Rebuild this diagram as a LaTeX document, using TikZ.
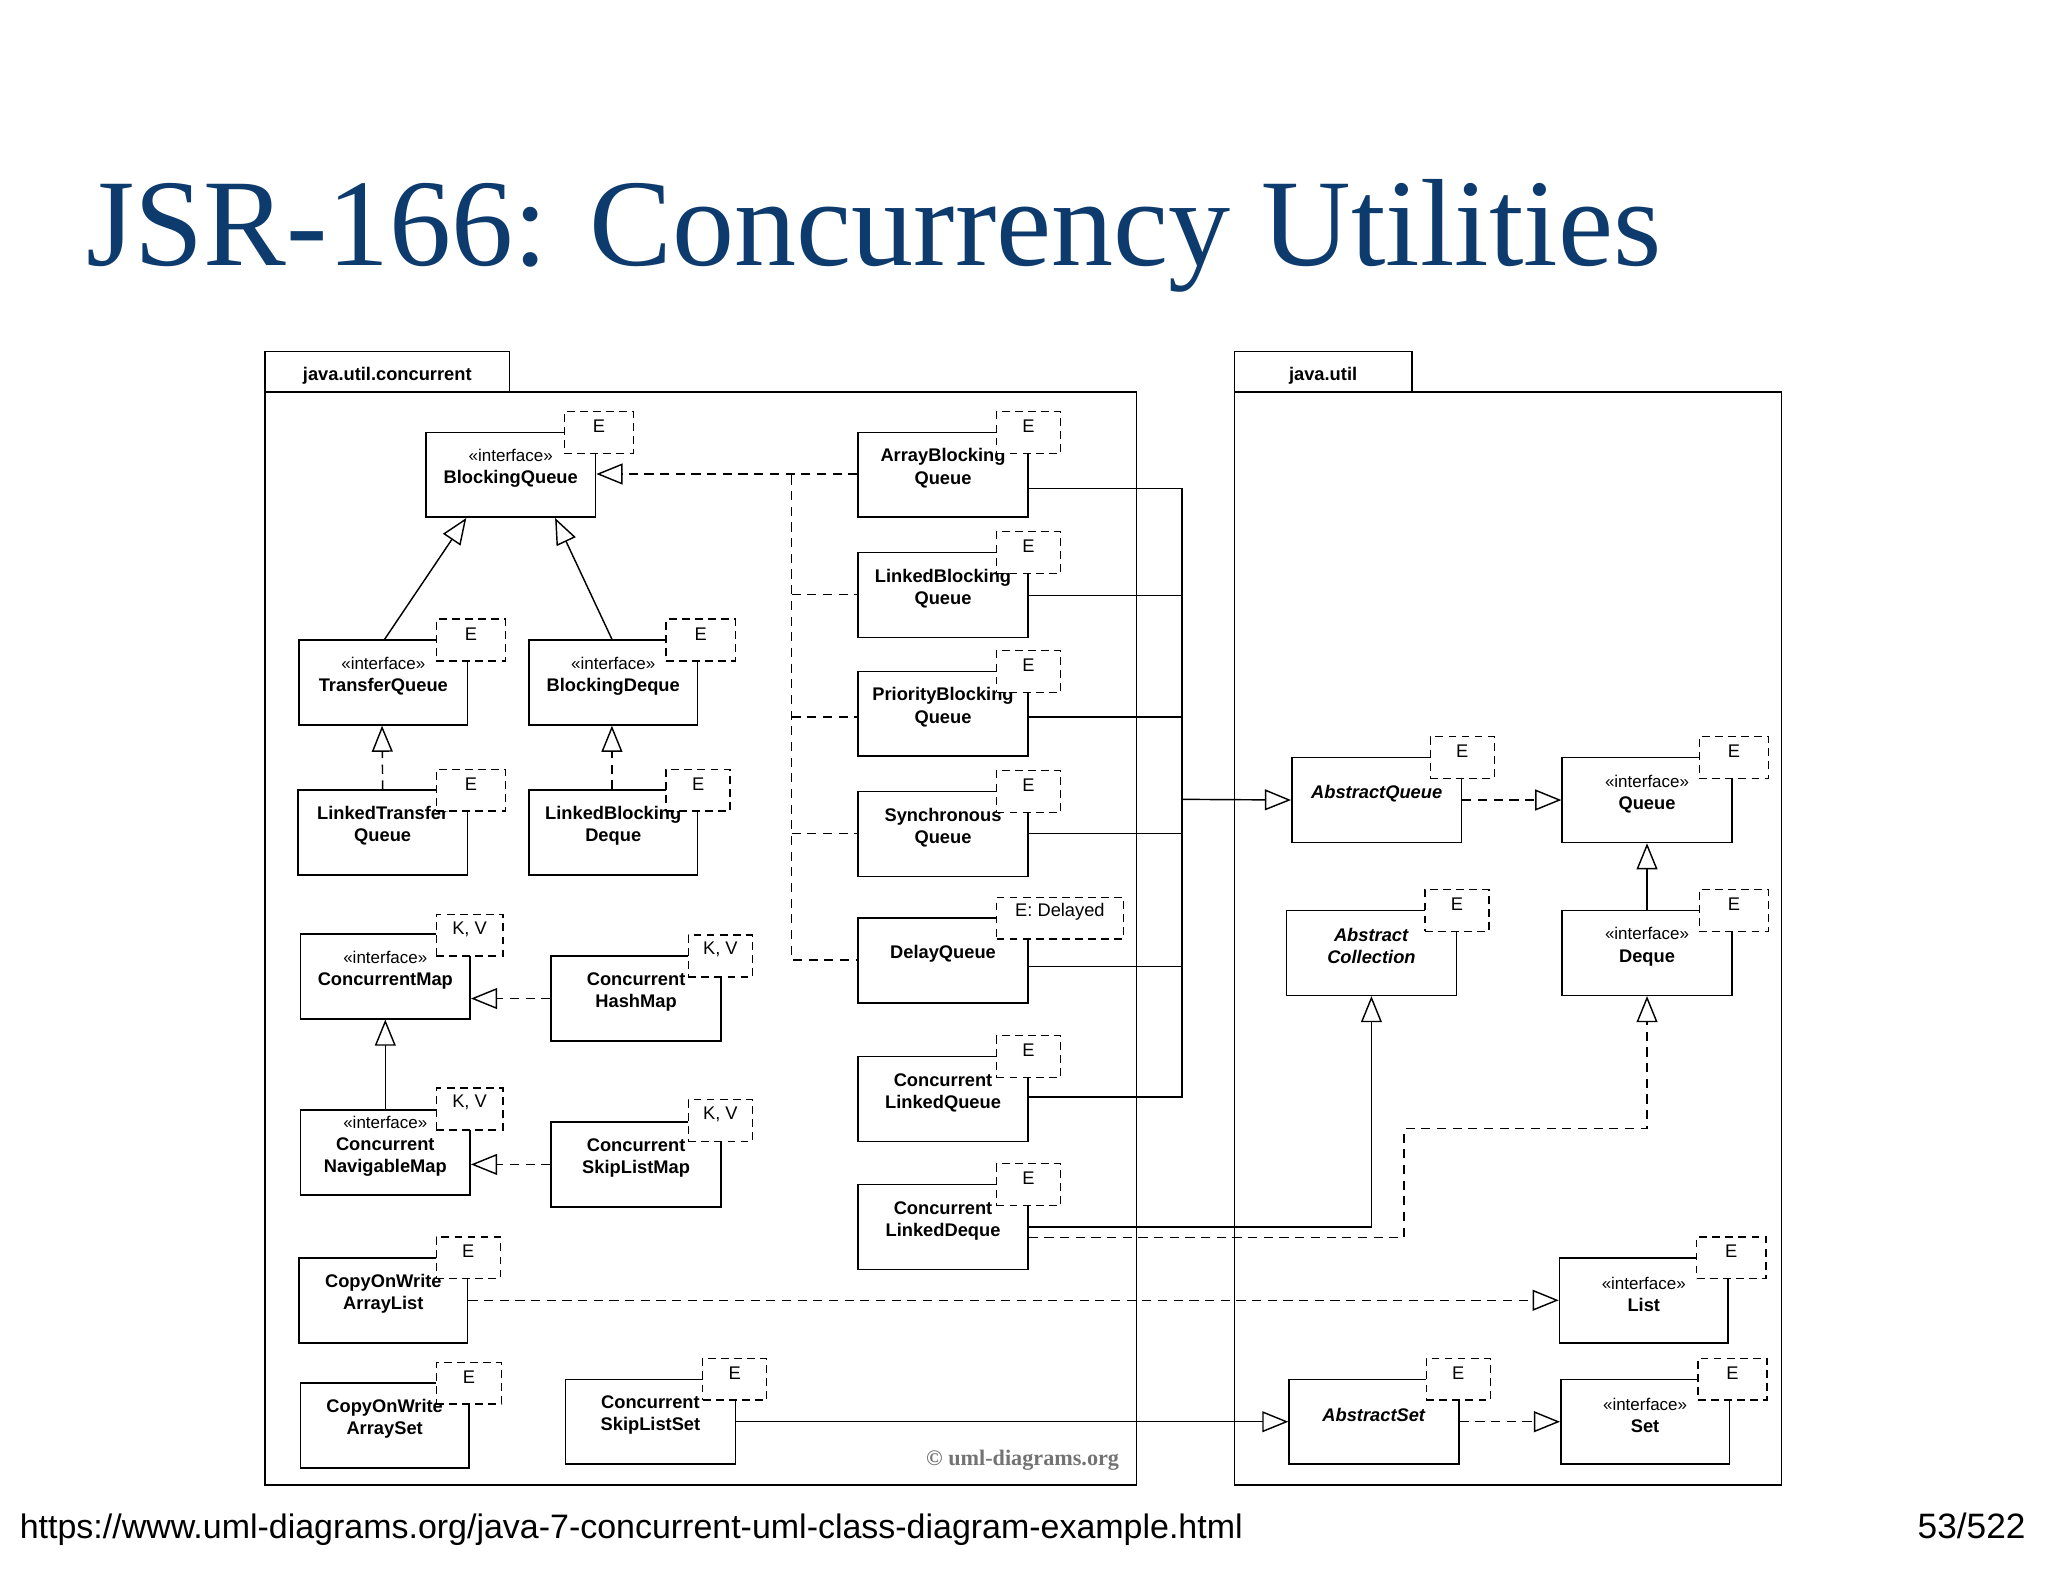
\documentclass[tikz,border=0pt]{standalone}
\usepackage{fontspec}
\setmainfont{Liberation Serif}
\newfontfamily\sans{Liberation Sans}
\usetikzlibrary{fit,arrows.meta}
\definecolor{ttl}{HTML}{0E3B6E}
\begin{document}
\begin{tikzpicture}[x=1pt,y=-1pt,
 cls/.style={draw,line width=1.2pt,inner sep=0pt,align=center,font=\sans\fontsize{14}{17}\selectfont,fill=white},
 tpl/.style={draw,dash pattern=on 6pt off 4pt,line width=1.1pt,fill=white,inner sep=0pt,font=\sans\fontsize{14}{17}\selectfont},
 pkg/.style={draw,line width=1.2pt,inner sep=0pt},
 pkgl/.style={label={[font=\sans\bfseries\fontsize{14}{17}\selectfont,yshift=-3pt]center:#1}},
 dsh/.style={dash pattern=on 7pt off 5pt,line width=1.1pt},
 sol/.style={line width=1.1pt},
 gen/.style={-{Triangle[open,length=20,width=16,fill=white]}}]
\useasboundingbox (0,0) rectangle (1568,1211);
\newcommand\cls[6]{\node[cls,fit={(#2,#3)(#4,#5)}] (#1) {#6};}
\newcommand\tpl[6]{\node[tpl,fit={(#2,#3)(#4,#5)}] (#1) {#6};}
\newcommand\iface{{\fontsize{13}{16}\selectfont «interface»}\\}
% title
\node[anchor=base west,font=\fontsize{95}{100}\selectfont,text=ttl,inner sep=0] (title) at (66,203) {JSR-166: Concurrency Utilities};
\node[anchor=base west,font=\sans\fontsize{26}{30}\selectfont,inner sep=0] (url) at (15,1178) {https://www.uml-diagrams.org/java-7-concurrent-uml-class-diagram-example.html};
\node[anchor=base east,font=\sans\fontsize{27}{30}\selectfont,inner sep=0] (page) at (1551,1178) {53/522};
% packages
\node[pkg,fit={(203,269)(390,300)},pkgl={java.util.concurrent}] (p1t) {};
\node[pkg,fit={(203,300)(870,1137)}] (p1) {};
\node[pkg,fit={(945,269)(1081,300)},pkgl={java.util}] (p2t) {};
\node[pkg,fit={(945,300)(1364,1137)}] (p2) {};
\node[anchor=base east,font=\bfseries\fontsize{17}{20}\selectfont,text=black!55,inner sep=0] (wm) at (857,1122) {© uml-diagrams.org};
% connectors (drawn first)
\draw[sol] (787,374) -| (905,840) -- (787,840);
\draw[sol] (787,456) -- (905,456);
\draw[sol] (787,549) -- (905,549);
\draw[sol] (787,638) -- (905,638);
\draw[sol] (787,740) -- (905,740);
\draw[dsh] (606,364) -- (606,735) -- (657,735);
\draw[dsh] (606,455) -- (657,455);
\draw[dsh] (606,549) -- (657,549);
\draw[dsh] (606,638) -- (657,638);
% classes
\cls{bq}{326}{331}{456}{396}{\iface\textbf{BlockingQueue}}
\cls{tq}{229}{490}{358}{555}{\iface\textbf{TransferQueue}}
\cls{bd}{405}{490}{534}{555}{\iface\textbf{BlockingDeque}}
\cls{ltq}{228}{605}{358}{670}{\textbf{LinkedTransfer}\\\textbf{Queue}}
\cls{lbd}{405}{605}{534}{670}{\textbf{LinkedBlocking}\\\textbf{Deque}}
\cls{cm}{230}{715}{360}{780}{\iface\textbf{ConcurrentMap}}
\cls{chm}{422}{732}{552}{797}{\textbf{Concurrent}\\\textbf{HashMap}}
\cls{cnm}{230}{850}{360}{915}{\iface\textbf{Concurrent}\\\textbf{NavigableMap}}
\cls{cslm}{422}{859}{552}{924}{\textbf{Concurrent}\\\textbf{SkipListMap}}
\cls{cowal}{229}{963}{358}{1028}{\textbf{CopyOnWrite}\\\textbf{ArrayList}}
\cls{cowas}{230}{1059}{359}{1124}{\textbf{CopyOnWrite}\\\textbf{ArraySet}}
\cls{csls}{433}{1056}{563}{1121}{\textbf{Concurrent}\\\textbf{SkipListSet}}
\cls{abq}{657}{331}{787}{396}{\textbf{ArrayBlocking}\\\textbf{Queue}}
\cls{lbq}{657}{423}{787}{488}{\textbf{LinkedBlocking}\\\textbf{Queue}}
\cls{pbq}{657}{514}{787}{579}{\textbf{PriorityBlocking}\\\textbf{Queue}}
\cls{sq}{657}{606}{787}{671}{\textbf{Synchronous}\\\textbf{Queue}}
\cls{dq}{657}{703}{787}{768}{\textbf{DelayQueue}}
\cls{clq}{657}{809}{787}{874}{\textbf{Concurrent}\\\textbf{LinkedQueue}}
\cls{cld}{657}{907}{787}{972}{\textbf{Concurrent}\\\textbf{LinkedDeque}}
\cls{aq}{989}{580}{1119}{645}{\textbf{\itshape AbstractQueue}}
\cls{q}{1196}{580}{1326}{645}{\iface\textbf{Queue}}
\cls{ac}{985}{697}{1115}{762}{\textbf{\itshape Abstract}\\\textbf{\itshape Collection}}
\cls{dqi}{1196}{697}{1326}{762}{\iface\textbf{Deque}}
\cls{li}{1194}{963}{1323}{1028}{\iface\textbf{List}}
\cls{as}{987}{1056}{1117}{1121}{\textbf{\itshape AbstractSet}}
\cls{se}{1195}{1056}{1324}{1121}{\iface\textbf{Set}}
% templates
\tpl{t1}{432}{315}{485}{347}{E}
\tpl{t2}{334}{474}{387}{506}{E}
\tpl{t3}{510}{474}{563}{506}{E}
\tpl{t4}{334}{589}{387}{621}{E}
\tpl{t5}{510}{589}{559}{621}{E}
\tpl{t6}{334}{700}{385}{732}{K, V}
\tpl{t7}{527}{716}{576}{748}{K, V}
\tpl{t8}{334}{833}{385}{865}{K, V}
\tpl{t9}{527}{842}{576}{874}{K, V}
\tpl{t10}{334}{947}{383}{979}{E}
\tpl{t11}{334}{1043}{384}{1075}{E}
\tpl{t12}{538}{1040}{587}{1072}{E}
\tpl{t13}{763}{315}{812}{347}{E}
\tpl{t14}{763}{407}{812}{439}{E}
\tpl{t15}{763}{498}{812}{530}{E}
\tpl{t16}{763}{590}{812}{622}{E}
\tpl{t17}{763}{687}{860}{719}{E: Delayed}
\tpl{t18}{763}{793}{812}{825}{E}
\tpl{t19}{763}{891}{812}{923}{E}
\tpl{t20}{1095}{564}{1144}{596}{E}
\tpl{t21}{1301}{564}{1354}{596}{E}
\tpl{t22}{1091}{681}{1140}{713}{E}
\tpl{t23}{1301}{681}{1354}{713}{E}
\tpl{t24}{1299}{947}{1352}{979}{E}
\tpl{t25}{1092}{1040}{1141}{1072}{E}
\tpl{t26}{1300}{1040}{1353}{1072}{E}
% generalizations / realizations
\draw[sol,gen] ([xshift=1]tq.north) -- ([xshift=-34]bq.south);
\draw[sol,gen] ([xshift=-1]bd.north) -- ([xshift=34]bq.south);
\draw[dsh,gen] (ltq.north) -- ([xshift=-1]tq.south);
\draw[dsh,gen] ([xshift=-1]lbd.north) -- ([xshift=-1]lbd.north |- bd.south);
\draw[sol,gen] (cnm.north) -- (cm.south);
\draw[dsh,gen] (chm.west) -- (chm.west -| cm.east);
\draw[dsh,gen] (cslm.west) -- (cslm.west -| cnm.east);
\draw[dsh,gen] ([yshift=-32.5]abq.north west) -- ([yshift=-32.5]bq.north east);
\draw[sol,gen] (905,612) -- (aq.west);
\draw[dsh,gen] (aq.east) -- (q.west);
\draw[sol,gen] (dqi.north) -- (q.south);
\draw[sol,gen] (cld.east) -| (ac.south);
\draw[dsh,gen] ([yshift=-8]cld.east) -- (1075,947.5) -- (1075,864) -| (dqi.south);
\draw[dsh,gen] (cowal.east) -- (cowal.east -| li.west);
\draw[sol,gen] (csls.east) -- (csls.east -| as.west);
\draw[dsh,gen] (as.east) -- (se.west);
\end{tikzpicture}
\end{document}
